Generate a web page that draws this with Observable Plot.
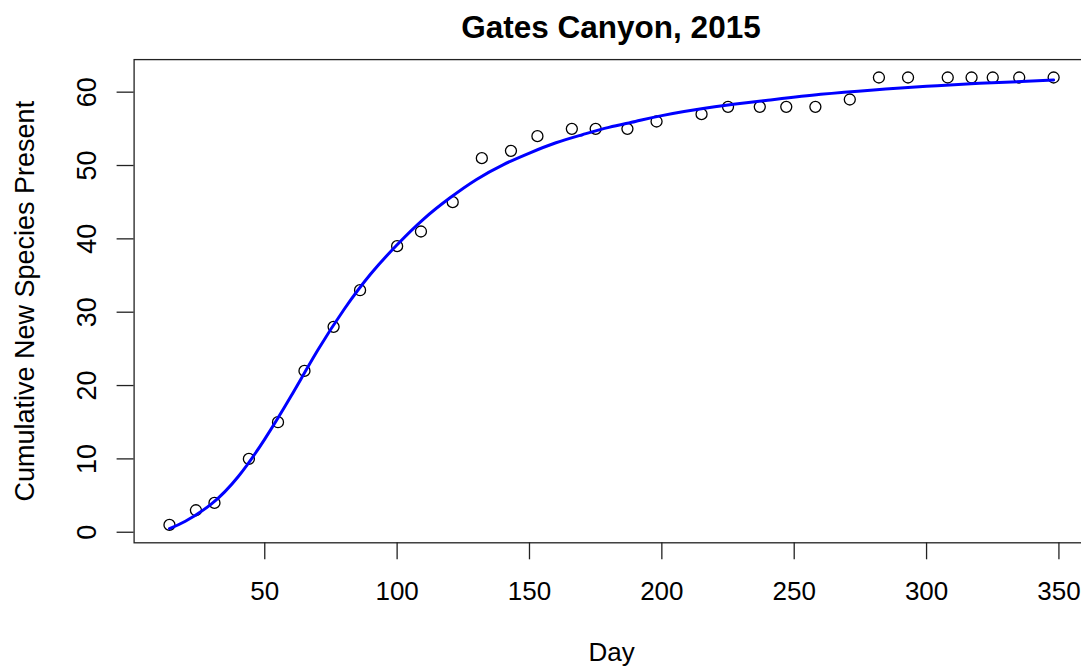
<!DOCTYPE html>
<html>
<head>
<meta charset="utf-8">
<script src="https://cdn.jsdelivr.net/npm/d3@7"></script>
<script src="https://cdn.jsdelivr.net/npm/@observablehq/plot@0.6"></script>
<style>
  body { margin: 0; background: #fff; font-family: "Liberation Sans", Arial, Helvetica, sans-serif; }
  #chart { position: relative; width: 1081px; height: 668px; overflow: hidden; background: #fff; }
  #title { position: absolute; left: 141px; right: 0; top: 0; height: 50px; box-sizing: border-box;
           padding-top: 12px; text-align: center; font-weight: bold; font-size: 31.5px; line-height: 31px; color: #000; }
  #plot { position: absolute; left: 0; top: 50px; }
</style>
</head>
<body>
<div id="chart">
  <div id="title">Gates Canyon, 2015</div>
  <div id="plot"></div>
</div>
<script>
// Survey days and the cumulative count of new species seen by each day
const days = [14, 24, 31, 44, 55, 65, 76, 86, 100, 109, 121, 132, 143, 153, 166, 175,
              187, 198, 215, 225, 237, 247, 258, 271, 282, 293, 308, 317, 325, 335, 348];
const species = [1, 3, 4, 10, 15, 22, 28, 33, 39, 41, 45, 51, 52, 54, 55, 55,
                 55, 56, 57, 58, 58, 58, 58, 59, 62, 62, 62, 62, 62, 62, 62];

// Fitted accumulation curve, sampled along the day axis
const fitDays = [14, 20, 30, 40, 50, 60, 70, 80, 90, 100, 110, 120, 130, 140, 150,
                 160, 170, 180, 190, 200, 220, 240, 260, 280, 300, 320, 348];
const fitValues = [0.5, 1.5, 3.9, 7.6, 12.7, 18.6, 24.8, 30.4, 35.2, 39.2, 42.7, 45.6, 48.1, 50.1, 51.7,
                   53.1, 54.2, 55.2, 56.0, 56.8, 58.0, 58.9, 59.7, 60.3, 60.8, 61.2, 61.65];

// Axis tick values
const xTicks = [50, 100, 150, 200, 250, 300, 350];
const yTicks = [0, 10, 20, 30, 40, 50, 60];

const observed = days.map((d, i) => ({day: d, n: species[i]}));
const fitted = fitDays.map((d, i) => ({day: d, n: fitValues[i]}));

// Extend a data range by 4% on each side, as in a base-graphics plot
const padded = (values) => {
  const [lo, hi] = d3.extent(values);
  const e = (hi - lo) * 0.04;
  return [lo - e, hi + e];
};

const font = '"Liberation Sans", Arial, Helvetica, sans-serif';
const ink = "#222";

const chart = Plot.plot({
  width: 1081,
  height: 618,
  marginLeft: 133.6,
  marginRight: -7.5,
  marginTop: 9.1,
  marginBottom: 125.7,
  style: {fontSize: "26px", fontFamily: font, color: "#000", background: "transparent", overflow: "hidden"},
  x: {domain: padded(days)},
  y: {domain: padded(species)},
  marks: [
    Plot.frame({stroke: ink, strokeWidth: 1.3}),
    Plot.axisX({
      ticks: xTicks, tickSize: 17, tickPadding: 22, stroke: ink, strokeWidth: 1.3,
      tickFormat: d => String(d),
      label: "Day", labelAnchor: "center", labelArrow: "none", labelOffset: 118
    }),
    Plot.axisY({
      ticks: yTicks, tickSize: 17, tickPadding: 21, tickRotate: -90, stroke: ink, strokeWidth: 1.3,
      tickFormat: d => String(d),
      label: "Cumulative New Species Present", labelAnchor: "center", labelArrow: "none", labelOffset: 119,
      fontSize: 27
    }),
    Plot.dot(observed, {x: "day", y: "n", r: 5.5, stroke: "#000", strokeWidth: 1.3, fill: "none"}),
    Plot.line(fitted, {x: "day", y: "n", stroke: "#0000ff", strokeWidth: 3, curve: "natural"})
  ]
});

document.getElementById("plot").appendChild(chart);
</script>
</body>
</html>
